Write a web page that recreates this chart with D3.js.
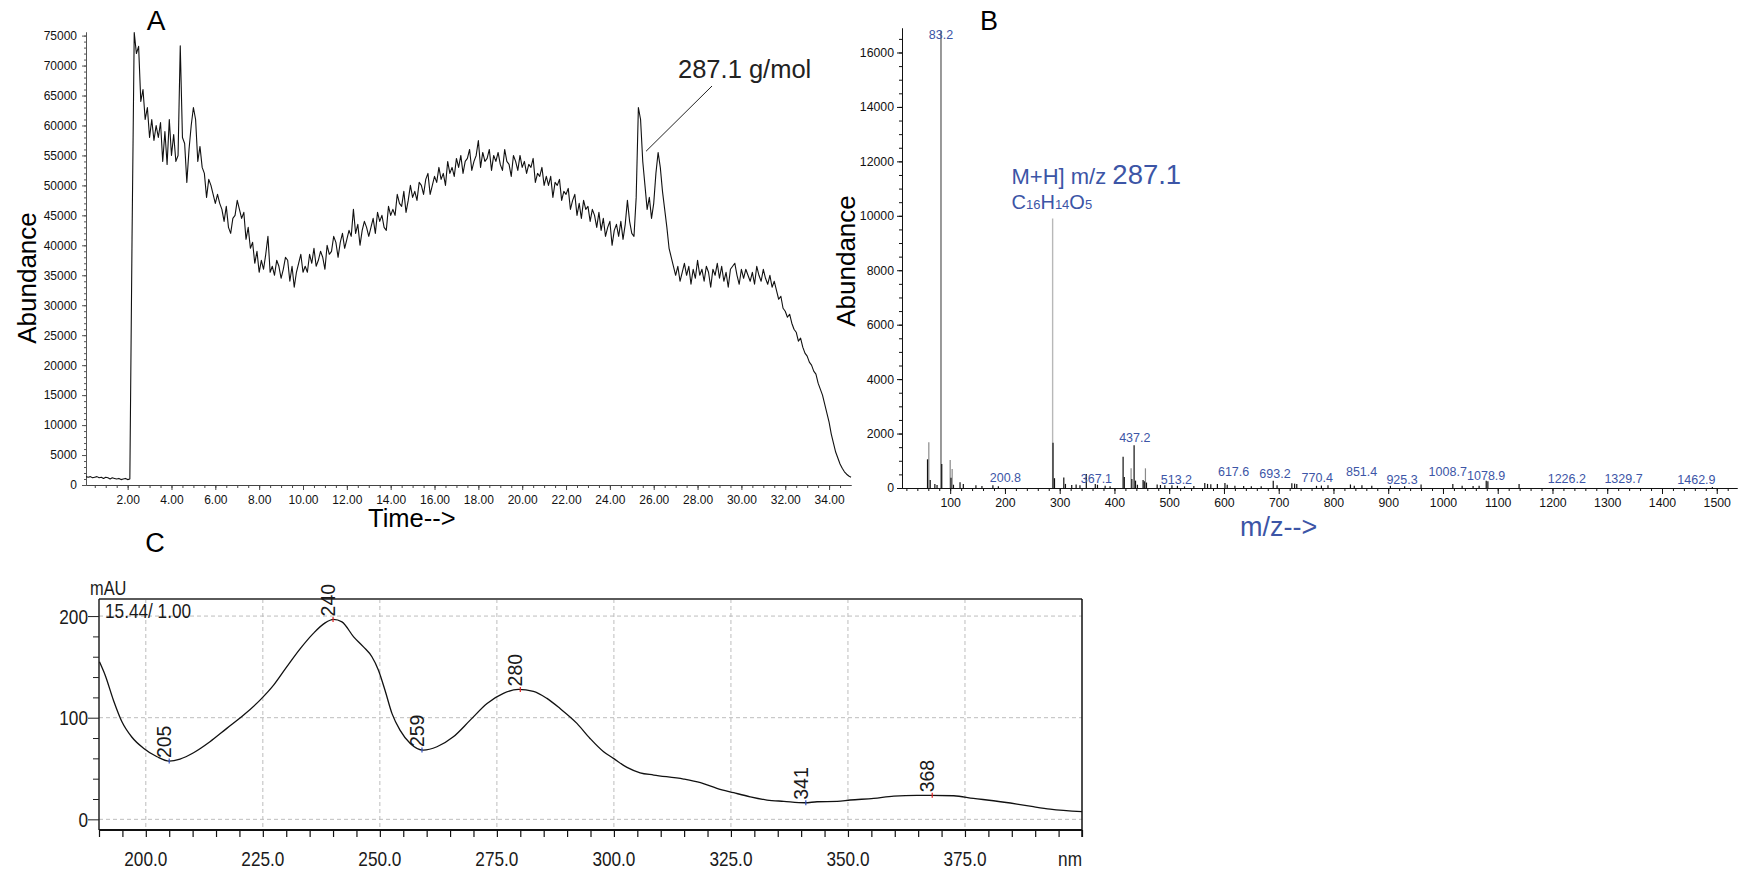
<!DOCTYPE html>
<html>
<head>
<meta charset="utf-8">
<script src="https://cdn.jsdelivr.net/npm/d3@7"></script>
<style>
  body { margin: 0; background: #fff; }
  svg { display: block; font-family: "Liberation Sans", Arial, sans-serif; }
</style>
</head>
<body>
<div id="chart"></div>
<script>
// ---- A: total ion chromatogram, abundance in thousands, one value every 0.1 min from 0.1 min
const ticStart = 0.1;
const ticStep = 0.1;
const ticValues = [
  1.4, 1.3, 1.4, 1.2, 1.3, 1.4, 1.2, 1.3, 1.1, 1.3,
  1.2, 1.0, 1.2, 1.1, 1.0, 1.1, 0.9, 1.0, 1.1, 0.9,
  1.0, 41, 75.5, 72, 73.2, 64, 66, 61, 63, 58,
  61, 57.5, 60, 58, 60.5, 54, 59, 53.5, 61, 55,
  58.5, 54, 55, 73.3, 58, 57, 50.5, 56, 60, 63,
  61, 54, 56.5, 53, 52, 48, 51, 50, 48.5, 47,
  48.5, 47, 46, 44, 46.5, 43, 42, 44.5, 45, 47.5,
  46, 44.5, 45.5, 41, 43, 39.5, 40.5, 37, 39, 35.5,
  37.5, 36, 38.5, 41.5, 35.5, 36.5, 35, 37.5, 36.5, 34.5,
  36, 38, 37.5, 34, 36.5, 33, 35.5, 37, 38.5, 35.5,
  36.5, 35.5, 38.5, 37, 39.5, 36.5, 37.5, 39, 38, 36,
  40, 38.5, 39, 41.5, 40.5, 38, 40.5, 42, 39.5, 41,
  42.5, 41.5, 46, 42, 43.5, 40, 42.5, 44, 43, 41.5,
  43, 44.5, 42, 45.5, 44, 45, 43, 42.5, 46.5, 45,
  46, 45, 48.5, 47, 46.5, 49, 45.5, 47.5, 50, 48,
  49, 47.5, 50.5, 50, 48.5, 51, 52, 48.5, 50, 51.5,
  50.5, 53, 51, 52, 50, 54, 52, 53, 51.5, 54.5,
  53, 55, 52, 54, 54.5, 56, 52.5, 54, 55, 57.5,
  53, 55.5, 54, 54.5, 56, 52.5, 55, 54, 55.5, 53.5,
  52.5, 56, 54, 53.5, 51.5, 55, 54, 52.5, 55, 53,
  54, 52, 53.5, 53, 54.5, 50.5, 52, 51.5, 53, 50,
  51.5, 50, 51.5, 48, 50.5, 50, 51, 47.5, 49, 48.5,
  49.5, 46, 47.5, 48.5, 45, 47, 44.5, 47.5, 46, 46.5,
  44, 46, 45, 43, 45.5, 42.5, 44.5, 41.5, 43, 44,
  40, 42.5, 43.5, 41.5, 44, 41, 43.5, 47.5, 44, 42,
  41.5, 48, 63, 61, 54, 50, 46, 48, 44.5, 47,
  52, 55.5, 53, 49, 46, 43, 39.5, 38, 36.5, 35,
  36.5, 34, 35.5, 37, 35, 36.5, 33.5, 36, 34.5, 37.5,
  35, 36, 34, 36.5, 35.5, 33, 36, 35, 37, 34.5,
  36.5, 34, 35.5, 33, 36, 36.5, 37, 35, 33.5, 36,
  34.5, 36, 35, 34, 35.5, 33.5, 36.5, 35, 34, 36,
  34.5, 33.5, 35, 33, 34, 32.5, 31, 31.5, 29.5, 29,
  28, 28.5, 27, 26, 25.5, 24, 24.5, 23, 22, 21.5,
  20.5, 20, 19, 18.5, 17, 16, 15, 13.5, 12, 10.5,
  8.5, 7, 5.5, 4.5, 3.5, 2.8, 2.2, 1.8, 1.5, 1.3,
];
const timeTicks = [2, 4, 6, 8, 10, 12, 14, 16, 18, 20, 22, 24, 26, 28, 30, 32, 34];
const ticAbundanceTicks = [0, 5000, 10000, 15000, 20000, 25000, 30000, 35000,
  40000, 45000, 50000, 55000, 60000, 65000, 70000, 75000];
const ticMarker = { time: 25.65, abundance: 55700, label: '287.1 g/mol' };

// ---- B: mass spectrum [m/z, abundance]
const mainIons = [[83.2, 16800], [287.1, 9900]];
const greySticks = [[61, 1680], [100, 1030], [103.6, 700], [430.4, 723], [456.6, 723]];
const blackSticks = [
  [58.6, 1054], [63.5, 290], [72, 150], [76, 110], [84.6, 880], [101.5, 380], [106, 120],
  [118, 210], [124, 150], [147, 100], [158, 70], [178, 100], [188, 60], [287.8, 1665],
  [290.5, 360], [307.5, 390], [310.5, 150], [322, 110], [330, 130], [337, 100], [348.6, 510],
  [365, 150], [369, 120], [383, 80], [392, 60], [415.8, 1150], [418, 400], [431.8, 330],
  [435.9, 1568], [438.5, 270], [442, 120], [452.3, 294], [454.5, 250], [458.5, 200],
  [478, 130], [484, 110], [492, 100], [505, 100], [515, 80], [528, 60], [545, 70],
  [565, 180], [570, 150], [576, 140], [588, 150], [601.8, 180], [606, 120], [620, 80],
  [636, 70], [650, 60], [668, 60], [690, 270], [697, 100], [724, 170], [729, 160],
  [733, 150], [769, 80], [778, 90], [790, 100], [831, 130], [838, 80], [852, 100],
  [870, 80], [904, 80], [930, 60], [960, 130], [1018, 150], [1035, 80], [1055, 70],
  [1066, 80], [1079, 270], [1082, 250], [1139, 150], [1492, 40],
];
// label text, m/z, abundance level of the label baseline
const ionLabels = [
  ['83.2', 83.2, 16480], ['200.8', 200.8, 210], ['367.1', 367.1, 175], ['437.2', 437.2, 1680],
  ['513.2', 513.2, 150], ['617.6', 617.6, 440], ['693.2', 693.2, 355], ['770.4', 770.4, 230],
  ['851.4', 851.4, 440], ['925.3', 925.3, 150], ['1008.7', 1008.7, 440], ['1078.9', 1078.9, 295],
  ['1226.2', 1226.2, 175], ['1329.7', 1329.7, 175], ['1462.9', 1462.9, 150],
];
const mzTicks = [100, 200, 300, 400, 500, 600, 700, 800, 900, 1000, 1100, 1200, 1300, 1400, 1500];
const msAbundanceTicks = [0, 2000, 4000, 6000, 8000, 10000, 12000, 14000, 16000];

// ---- C: UV spectrum
const uvNm = [190.1, 191.3, 193.1, 194.9, 197, 199.5, 202.4, 205, 207.3, 210.2, 213.7, 217.3,
  220.9, 224.4, 227.3, 230.1, 233, 235.8, 238.3, 240.1, 241.9, 244.4, 246.5, 248.3, 249.7,
  251.1, 252.6, 254.3, 256.5, 259.3, 262.2, 265.7, 269.3, 272.9, 276.4, 279.6, 282.8, 285.7,
  288.5, 292.1, 294.9, 297.8, 299.9, 302.8, 305.6, 308.5, 314.9, 318.5, 322, 325.6, 329.1,
  332.7, 336.3, 340.8, 343.4, 347.7, 350.5, 355.5, 359.8, 364.7, 367.6, 372.6, 376.8, 381.1,
  386.1, 389.6, 393.2, 400];
const uvMau = [155, 142, 117, 96, 81, 70, 61.6, 57.3, 59.3, 65.5, 76.3, 89.5,
  102.6, 117.3, 132, 150, 168, 183, 193.3, 196.7, 194.3, 179.6, 169.7, 160, 146.8,
  127, 104, 87.8, 74.7, 68.1, 71.4, 81.2, 97.6, 114, 124, 127.8, 126, 119,
  109, 94.4, 79.6, 66.5, 60, 51.1, 45.8, 43.6, 39.6, 36, 30.5, 26.2, 22.2,
  19, 17.7, 16.3, 17.3, 17.7, 19, 20.6, 22.9, 23.6, 23.6, 23.2, 20.6, 18.3,
  15, 12.4, 10, 7.5];
const uvPeakNm = [205, 240, 259, 280, 341, 368];
const uvPeakMau = [57.3, 196.7, 68.1, 127.8, 16.3, 23.6];
const uvPeakKind = ['min', 'max', 'min', 'max', 'min', 'max'];
const nmTicks = [200, 225, 250, 275, 300, 325, 350, 375];
const mauTicks = [0, 100, 200];

const FONT = '"Liberation Sans", Arial, sans-serif';
const BLUE = '#3c55a6';
const plain = d3.format('d');

const svg = d3.select('#chart').append('svg')
  .attr('width', 1747)
  .attr('height', 873);

function styleAxis(g, size, color) {
  g.attr('font-family', FONT).attr('font-size', size);
  g.select('.domain').attr('stroke', color);
  g.selectAll('.tick line').attr('stroke', color);
  g.selectAll('.tick text').attr('fill', '#111');
}

function drawChromatogram() {
  const x = d3.scaleLinear().domain([0.1, 35.0]).range([86, 851]);
  const y = d3.scaleLinear().domain([0, 75600]).range([485, 32]);
  const g = svg.append('g');

  g.append('g')
    .attr('transform', `translate(0,${y(0)})`)
    .call(d3.axisBottom(x).tickValues(d3.range(0.5, 35, 0.5)).tickSize(3).tickFormat('').tickSizeOuter(0))
    .call((a) => styleAxis(a, 12, '#444'));
  g.append('g')
    .attr('transform', `translate(0,${y(0)})`)
    .call(d3.axisBottom(x).tickValues(timeTicks).tickSize(5).tickPadding(5.5)
      .tickFormat(d3.format('.2f')).tickSizeOuter(0))
    .call((a) => styleAxis(a, 12, '#444'));

  g.append('g')
    .attr('transform', `translate(${x.range()[0]},0)`)
    .call(d3.axisLeft(y).tickValues(d3.range(1000, 75001, 1000)).tickSize(2).tickFormat('').tickSizeOuter(0))
    .call((a) => styleAxis(a, 12, '#555'));
  g.append('g')
    .attr('transform', `translate(${x.range()[0]},0)`)
    .call(d3.axisLeft(y).tickValues(ticAbundanceTicks).tickSize(4).tickPadding(5)
      .tickFormat(plain).tickSizeOuter(0))
    .call((a) => styleAxis(a, 12, '#555'));

  g.append('path')
    .datum(ticValues)
    .attr('fill', 'none')
    .attr('stroke', '#111')
    .attr('stroke-width', 1.1)
    .attr('stroke-linejoin', 'round')
    .attr('d', d3.line()
      .x((d, i) => x(ticStart + i * ticStep))
      .y((d) => y(d * 1000)));

  g.append('line')
    .attr('x1', 712).attr('y1', 86)
    .attr('x2', x(ticMarker.time)).attr('y2', y(ticMarker.abundance))
    .attr('stroke', '#222').attr('stroke-width', 1);
  g.append('text')
    .attr('x', 678).attr('y', 78)
    .attr('font-size', 25.5).attr('fill', '#222')
    .text(ticMarker.label);

  g.append('text')
    .attr('x', 156).attr('y', 30)
    .attr('text-anchor', 'middle').attr('font-size', 28)
    .text('A');
  g.append('text')
    .attr('transform', 'translate(36,278) rotate(-90)')
    .attr('text-anchor', 'middle').attr('font-size', 26)
    .text('Abundance');
  g.append('text')
    .attr('x', 368).attr('y', 527)
    .attr('font-size', 25.5)
    .text('Time-->');
}

function drawSpectrum() {
  const x = d3.scaleLinear().domain([12, 1537]).range([902, 1737]);
  const y = d3.scaleLinear().domain([0, 16900]).range([488, 28]);
  const g = svg.append('g');

  g.append('g')
    .attr('transform', `translate(0,${y(0)})`)
    .call(d3.axisBottom(x).tickValues(d3.range(20, 1537, 20)).tickSize(3).tickFormat('').tickSizeOuter(0))
    .call((a) => styleAxis(a, 12.3, '#111'));
  g.append('g')
    .attr('transform', `translate(0,${y(0)})`)
    .call(d3.axisBottom(x).tickValues(mzTicks).tickSize(6).tickPadding(3.8)
      .tickFormat(plain).tickSizeOuter(0))
    .call((a) => styleAxis(a, 12.3, '#111'));

  g.append('g')
    .attr('transform', `translate(${x.range()[0]},0)`)
    .call(d3.axisLeft(y).tickValues(d3.range(500, 16900, 500)).tickSize(3).tickFormat('').tickSizeOuter(0))
    .call((a) => styleAxis(a, 12.3, '#111'));
  g.append('g')
    .attr('transform', `translate(${x.range()[0]},0)`)
    .call(d3.axisLeft(y).tickValues(msAbundanceTicks).tickSize(5).tickPadding(3)
      .tickFormat(plain).tickSizeOuter(0))
    .call((a) => styleAxis(a, 12.3, '#111'));

  const stick = (sel) => sel
    .attr('x1', (d) => x(d[0])).attr('x2', (d) => x(d[0]))
    .attr('y1', y(0)).attr('y2', (d) => y(d[1]));

  g.selectAll('line.main-ion')
    .data(mainIons)
    .join('line')
    .attr('class', 'main-ion')
    .call(stick)
    .attr('stroke', (d, i) => (i === 0 ? '#6f6f6f' : '#b8b8b8'))
    .attr('stroke-width', 1.4);
  g.selectAll('line.grey-stick')
    .data(greySticks)
    .join('line')
    .attr('class', 'grey-stick')
    .call(stick)
    .attr('stroke', '#8a8a8a')
    .attr('stroke-width', 1.2);
  g.selectAll('line.black-stick')
    .data(blackSticks)
    .join('line')
    .attr('class', 'black-stick')
    .call(stick)
    .attr('stroke', '#111')
    .attr('stroke-width', 1.2);

  g.selectAll('text.ion-label')
    .data(ionLabels)
    .join('text')
    .attr('class', 'ion-label')
    .attr('x', (d) => x(d[1]))
    .attr('y', (d) => y(d[2]))
    .attr('text-anchor', 'middle')
    .attr('font-size', 12.5)
    .attr('fill', BLUE)
    .text((d) => d[0]);

  const ion = g.append('text')
    .attr('x', 1011.5).attr('y', 184)
    .attr('fill', BLUE);
  ion.append('tspan').attr('font-size', 22).text('M+H] m/z ');
  ion.append('tspan').attr('font-size', 27.5).text('287.1');

  const formula = g.append('text')
    .attr('x', 1011.5).attr('y', 209)
    .attr('fill', BLUE);
  [['C', 20], ['16', 13], ['H', 20], ['14', 13], ['O', 20], ['5', 13]].forEach(([t, s]) => {
    formula.append('tspan').attr('font-size', s).text(t);
  });

  g.append('text')
    .attr('x', 989).attr('y', 30)
    .attr('text-anchor', 'middle').attr('font-size', 27)
    .text('B');
  g.append('text')
    .attr('transform', 'translate(855,261) rotate(-90)')
    .attr('text-anchor', 'middle').attr('font-size', 26)
    .text('Abundance');
  g.append('text')
    .attr('x', 1240).attr('y', 536)
    .attr('font-size', 27).attr('fill', BLUE)
    .text('m/z-->');
}

function narrowText(parent, px, py, str, size, anchor) {
  return parent.append('text')
    .attr('transform', `translate(${px},${py}) scale(0.82,1)`)
    .attr('text-anchor', anchor)
    .attr('font-size', size)
    .attr('fill', '#1a1a1a')
    .text(str);
}

function drawUv() {
  const x = d3.scaleLinear().domain([190, 400]).range([99, 1082]);
  const y = d3.scaleLinear().domain([-10.5, 216.8]).range([830, 599]);
  const g = svg.append('g');
  const [x0, x1] = x.range();
  const [y0, y1] = y.range();

  g.selectAll('line.vgrid')
    .data(nmTicks)
    .join('line')
    .attr('class', 'vgrid')
    .attr('x1', (d) => x(d)).attr('x2', (d) => x(d))
    .attr('y1', y1).attr('y2', y0)
    .attr('stroke', '#bdbdbd').attr('stroke-dasharray', '4,3');
  g.selectAll('line.hgrid')
    .data(mauTicks)
    .join('line')
    .attr('class', 'hgrid')
    .attr('x1', x0).attr('x2', x1)
    .attr('y1', (d) => y(d)).attr('y2', (d) => y(d))
    .attr('stroke', '#bdbdbd').attr('stroke-dasharray', '4,3');

  g.append('g')
    .attr('transform', `translate(0,${y0})`)
    .call(d3.axisBottom(x).tickValues(d3.range(190, 401, 5)).tickSize(7).tickFormat('').tickSizeOuter(0))
    .call((a) => a.selectAll('line').attr('stroke', '#111').attr('stroke-width', 1.2))
    .call((a) => a.select('.domain').remove());
  g.append('g')
    .attr('transform', `translate(${x0},0)`)
    .call(d3.axisLeft(y).tickValues(d3.range(20, 200, 20).filter((v) => v !== 100)).tickSize(6).tickFormat('').tickSizeOuter(0))
    .call((a) => a.selectAll('line').attr('stroke', '#222'))
    .call((a) => a.select('.domain').remove());
  g.append('g')
    .attr('transform', `translate(${x0},0)`)
    .call(d3.axisLeft(y).tickValues(mauTicks).tickSize(11).tickFormat('').tickSizeOuter(0))
    .call((a) => a.selectAll('line').attr('stroke', '#222'))
    .call((a) => a.select('.domain').remove());

  // frame
  g.append('line').attr('x1', x0).attr('x2', x1).attr('y1', y1).attr('y2', y1)
    .attr('stroke', '#5a5a5a').attr('stroke-width', 2.2);
  g.append('line').attr('x1', x0).attr('x2', x0).attr('y1', y1).attr('y2', y0)
    .attr('stroke', '#222').attr('stroke-width', 1.5);
  g.append('line').attr('x1', x1).attr('x2', x1).attr('y1', y1).attr('y2', y0 + 7)
    .attr('stroke', '#111').attr('stroke-width', 1.5);
  g.append('line').attr('x1', x0).attr('x2', x1).attr('y1', y0).attr('y2', y0)
    .attr('stroke', '#111').attr('stroke-width', 2.2);

  nmTicks.forEach((v) => narrowText(g, x(v), 866, v.toFixed(1), 21, 'middle'));
  narrowText(g, x1, 866, 'nm', 21, 'end');
  mauTicks.forEach((v) => narrowText(g, x0 - 11, y(v) + 7.5, String(v), 21, 'end'));
  narrowText(g, 90, 595, 'mAU', 20, 'start');
  narrowText(g, 105, 618, '15.44/ 1.00', 21, 'start');

  g.append('path')
    .datum(uvNm.map((d, i) => [d, uvMau[i]]))
    .attr('fill', 'none')
    .attr('stroke', '#111')
    .attr('stroke-width', 1.3)
    .attr('d', d3.line()
      .x((d) => x(d[0]))
      .y((d) => y(d[1]))
      .curve(d3.curveMonotoneX));

  uvPeakNm.forEach((nm, i) => {
    const px = x(nm);
    const py = y(uvPeakMau[i]);
    g.append('line')
      .attr('x1', px).attr('x2', px).attr('y1', py - 2.5).attr('y2', py + 2.5)
      .attr('stroke', uvPeakKind[i] === 'max' ? '#e02020' : '#3050c0')
      .attr('stroke-width', 1.2);
    g.append('text')
      .attr('transform', `translate(${px + 2},${py - 3}) rotate(-90)`)
      .attr('font-size', 19.5)
      .attr('fill', '#1a1a1a')
      .text(nm);
  });

  g.append('text')
    .attr('x', 155).attr('y', 552)
    .attr('text-anchor', 'middle').attr('font-size', 27)
    .text('C');
}

drawChromatogram();
drawSpectrum();
drawUv();
</script>
</body>
</html>
